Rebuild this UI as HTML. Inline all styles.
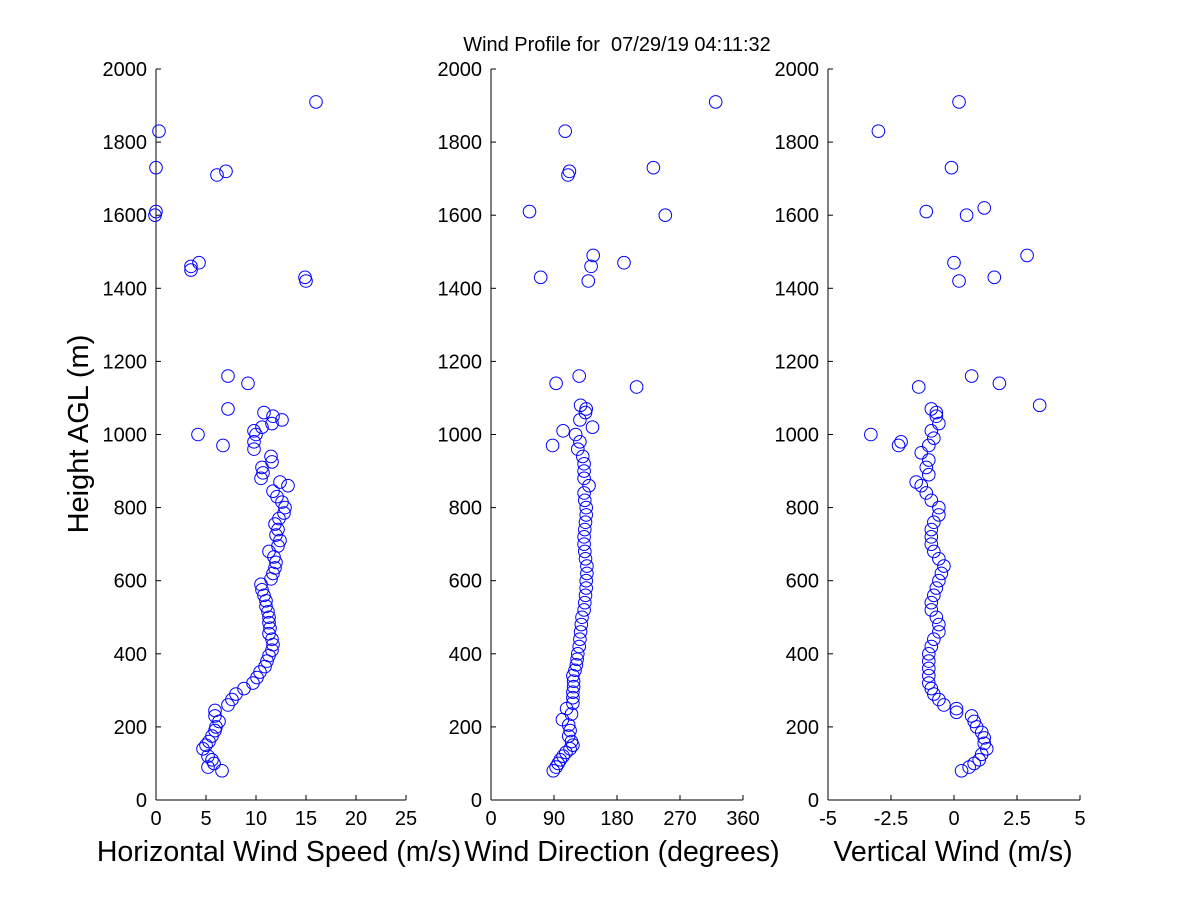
<!DOCTYPE html>
<html><head><meta charset="utf-8"><style>
body{margin:0;background:#fff}
svg{display:block;font-family:"Liberation Sans",Arial,sans-serif}
</style></head><body>
<svg id="chart" width="1200" height="900">
<rect width="1200" height="900" fill="#fff"/>
<text x="617" y="51" font-size="20" text-anchor="middle" style="white-space:pre">Wind Profile for  07/29/19 04:11:32</text>
<text transform="translate(88,434) rotate(-90)" font-size="29" text-anchor="middle">Height AGL (m)</text>
</svg>
<script>
const heightTicks=[0,200,400,600,800,1000,1200,1400,1600,1800,2000];
const speedTicks=[0,5,10,15,20,25];
const dirTicks=[0,90,180,270,360];
const vertTicks=[-5,-2.5,0,2.5,5];
const vertTickLabels=["-5","-2.5","0","2.5","5"];
const speedH=[80,90,100,110,120,140,150,160,175,190,200,215,230,245,260,275,290,305,320,335,350,365,380,395,410,425,440,455,470,485,500,515,530,545,560,575,590,605,620,635,650,665,680,695,710,725,740,755,770,785,800,815,830,845,860,870,880,895,910,925,940,960,980,1000,1010,1020,1030,1040,1050,1060,1000,970,1070,1160,1140,1460,1450,1470,1430,1420,1710,1720,1730,1830,1610,1600,1910];
const speedV=[6.6,5.2,5.8,5.6,5.2,4.7,5.0,5.3,5.6,5.9,6.0,6.3,5.9,5.9,7.2,7.6,8.0,8.8,9.7,10.1,10.4,10.9,11.1,11.3,11.6,11.7,11.6,11.3,11.4,11.3,11.3,11.2,11.0,11.0,10.8,10.6,10.5,11.5,11.7,11.9,12.0,11.8,11.3,12.2,12.4,12.0,12.2,11.9,12.3,12.8,12.9,12.6,12.1,11.7,13.2,12.4,10.5,10.7,10.6,11.6,11.5,9.8,9.8,10.0,9.8,10.6,11.6,12.6,11.7,10.8,4.2,6.7,7.2,7.2,9.2,3.5,3.5,4.3,14.9,15.0,6.1,7.0,0,0.3,0,-0.1,16.0];
const dirH=[80,90,100,110,120,130,140,150,160,175,190,205,220,235,250,265,280,295,310,325,340,355,370,385,400,420,440,460,480,500,520,540,560,580,600,620,640,660,680,700,720,740,760,780,800,820,840,860,880,900,920,940,960,980,1000,1020,1040,1060,1070,1080,970,1010,1140,1160,1130,1420,1460,1490,1430,1470,1610,1600,1710,1720,1730,1830,1910];
const dirV=[89,93,96,99,103,107,113,117,115,111,113,111,102,115,108,117,117,117,118,118,117,120,122,123,124,126,127,128,129,130,133,134,135,136,136,137,137,135,134,133,133,134,135,136,136,134,133,140,133,133,133,131,124,127,121,145,127,135,136,128,88,103,93,126,208,139,143,146,71,190,55,249,110,112,232,106,321];
const vertH=[80,90,100,110,125,140,155,170,185,200,215,230,240,250,260,275,290,305,320,340,360,380,400,420,440,460,480,500,520,540,560,580,600,620,640,660,680,700,720,740,760,780,800,820,840,860,870,890,910,930,950,970,990,1010,1030,1050,1060,1070,970,980,1000,1080,1140,1160,1130,1420,1430,1470,1490,1610,1600,1620,1730,1830,1910];
const vertV=[0.3,0.6,0.8,1.0,1.1,1.3,1.2,1.2,1.1,0.9,0.8,0.7,0.1,0.1,-0.4,-0.6,-0.8,-0.9,-1.0,-1.0,-1.0,-1.0,-1.0,-0.9,-0.8,-0.6,-0.6,-0.7,-0.9,-0.9,-0.8,-0.7,-0.6,-0.5,-0.4,-0.6,-0.8,-0.9,-0.9,-0.9,-0.8,-0.6,-0.6,-0.9,-1.1,-1.3,-1.5,-1.0,-1.1,-1.0,-1.3,-1.0,-0.8,-0.9,-0.6,-0.7,-0.7,-0.9,-2.2,-2.1,-3.3,3.4,1.8,0.7,-1.4,0.2,1.6,0.0,2.9,-1.1,0.5,1.2,-0.1,-3.0,0.2];

const svg=document.getElementById('chart');
const NS='http://www.w3.org/2000/svg';
const Y0=800,Y1=69;
function yScale(h){return Y0+(Y1-Y0)*h/2000;}
function mk(tag,attrs){const e=document.createElementNS(NS,tag);for(const k in attrs)e.setAttribute(k,attrs[k]);svg.appendChild(e);return e;}

const panels=[
 {name:'speed',x0:156,x1:406,min:0,max:25,ticks:speedTicks,labels:speedTicks.map(String),H:speedH,V:speedV,title:'Horizontal Wind Speed (m/s)',tx:279},
 {name:'direction',x0:491,x1:743,min:0,max:360,ticks:dirTicks,labels:dirTicks.map(String),H:dirH,V:dirV,title:'Wind Direction (degrees)',tx:622},
 {name:'vertical',x0:828,x1:1080,min:-5,max:5,ticks:vertTicks,labels:vertTickLabels,H:vertH,V:vertV,title:'Vertical Wind (m/s)',tx:953}
];
panels.forEach(p=>{
  const xs=v=>p.x0+(p.x1-p.x0)*(v-p.min)/(p.max-p.min);
  let e=mk('line',{x1:p.x0,y1:Y0,x2:p.x1,y2:Y0,stroke:'#000','stroke-width':1});
  
  
  e=mk('line',{x1:p.x0,y1:Y0,x2:p.x0,y2:Y1,stroke:'#000','stroke-width':1});
  
  
  heightTicks.forEach(h=>{
    const y=yScale(h);
    let t=mk('line',{x1:p.x0,y1:y,x2:p.x0+5,y2:y,stroke:'#000'});
    
    
    let l=mk('text',{x:p.x0-9,y:y+7,'font-size':20,'text-anchor':'end'});
    l.textContent=h;
    
    
  });
  p.ticks.forEach((v,i)=>{
    const x=xs(v);
    let t=mk('line',{x1:x,y1:Y0,x2:x,y2:Y0-5,stroke:'#000'});
    
    
    let l=mk('text',{x:x,y:Y0+25,'font-size':20,'text-anchor':'middle'});
    l.textContent=p.labels[i];
    
    
  });
  let tt=mk('text',{x:p.tx,y:861,'font-size':28.5,'text-anchor':'middle'});
  tt.textContent=p.title;
  
  
  p.H.forEach((h,i)=>{
    let c=mk('circle',{cx:xs(p.V[i]),cy:yScale(h),r:6.3,fill:'none',stroke:'#0000ff','stroke-width':1});
    
    
  });
});
</script>
</body></html>
